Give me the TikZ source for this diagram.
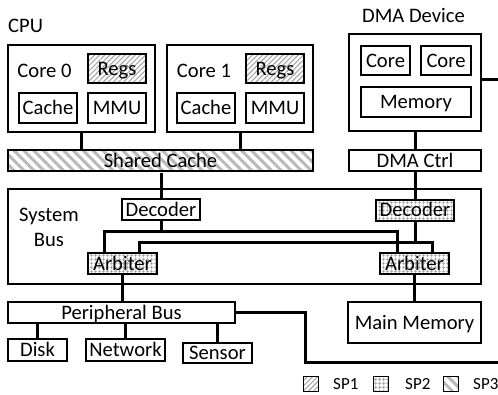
\documentclass[tikz,border=0pt]{standalone}
\usepackage{fontspec}
\setmainfont{Carlito}
\usetikzlibrary{patterns.meta}
\begin{document}
\begin{tikzpicture}[x=1pt,y=-1pt,
  box/.style={draw, line width=2pt, inner sep=0pt,
    font=\fontsize{20.6}{24}\selectfont, text height=13.2pt, text depth=0pt},
  conn/.style={line width=3pt},
  title/.style={font=\fontsize{20.6}{24}\selectfont, inner sep=0pt},
  legtext/.style={font=\fontsize{17}{20}\selectfont, inner sep=0pt,
    text height=11pt, text depth=0pt, anchor=west},
  legbox/.style={draw, line width=1pt, minimum width=15pt, minimum height=15pt, inner sep=0pt},
  spone/.style={pattern={Lines[angle=45,distance=3.6pt,line width=1.1pt]}, pattern color=gray!70},
  sptwo/.style={pattern={Hatch[angle=0,distance=4pt,line width=0.8pt]}, pattern color=gray!80},
  spthree/.style={pattern={Lines[angle=-45,distance=7pt,line width=3pt]}, pattern color=gray!55},
]
\useasboundingbox (0,0) rectangle (498,394);

% ---- CPU ----
\node[title, anchor=base west] (cpulbl) at (8,32) {CPU};
\node[box, minimum width=147pt, minimum height=87pt] (core0) at (81.5,88.5) {};
\node[box, draw=none] (core0lbl) at (44.5,70.5) {Core 0};
\node[box, spone, minimum width=58pt, minimum height=29pt] (regs0) at (117,68.5) {Regs};
\node[box, minimum width=58pt, minimum height=30pt] (cache0) at (48,108) {Cache};
\node[box, minimum width=58pt, minimum height=30pt] (mmu0) at (117,108) {MMU};

\node[box, minimum width=146pt, minimum height=87pt] (core1) at (240,88.5) {};
\node[box, draw=none] (core1lbl) at (204,70.5) {Core 1};
\node[box, spone, minimum width=58pt, minimum height=29pt] (regs1) at (275,68.5) {Regs};
\node[box, minimum width=58pt, minimum height=30pt] (cache1) at (206,108) {Cache};
\node[box, minimum width=58pt, minimum height=30pt] (mmu1) at (275,108) {MMU};

\node[box, spthree, minimum width=305pt, minimum height=21pt] (shc) at (160.5,160.5) {Shared Cache};

% ---- DMA device ----
\node[title, anchor=base] (dmalbl) at (413.5,22) {DMA Device};
\node[box, minimum width=132pt, minimum height=97pt] (dma) at (415,82.5) {};
\node[box, minimum width=49pt, minimum height=29pt] (dcore0) at (385.5,60.5) {Core};
\node[box, minimum width=50pt, minimum height=29pt] (dcore1) at (446,60.5) {Core};
\node[box, minimum width=110pt, minimum height=30pt] (dmem) at (416,102) {Memory};
\node[box, minimum width=132pt, minimum height=21pt] (dctrl) at (415,160.5) {DMA Ctrl};

% ---- System bus ----
\node[box, minimum width=473pt, minimum height=95pt] (sysbus) at (244.5,236.5) {};
\node[title, anchor=base] (syslbl1) at (49,221) {System};
\node[title, anchor=base] (syslbl2) at (49,246) {Bus};
\node[box, fill=white, minimum width=78pt, minimum height=21pt] (decL) at (161,209.5) {Decoder};
\node[box, sptwo, minimum width=78pt, minimum height=21pt] (decR) at (415,210) {Decoder};
\node[box, sptwo, minimum width=69pt, minimum height=21pt] (arbL) at (122.5,263.5) {Arbiter};
\node[box, sptwo, minimum width=69pt, minimum height=21pt] (arbR) at (414.5,263.5) {Arbiter};

% ---- peripherals and memory ----
\node[box, minimum width=227pt, minimum height=21pt] (pbus) at (121.5,312.5) {Peripheral Bus};
\node[box, minimum width=59pt, minimum height=22pt] (disk) at (37.5,350) {Disk};
\node[box, minimum width=79pt, minimum height=22pt] (net) at (125.5,350) {Network};
\node[box, minimum width=69pt, minimum height=20pt] (sensor) at (217.5,352.5) {Sensor};
\node[box, minimum width=133pt, minimum height=41pt] (mainmem) at (414.5,322.5) {Main Memory};

% ---- connector corners ----
\coordinate (busA) at (104,231);
\coordinate (busB) at (397,231);
\coordinate (busC) at (139,242);
\coordinate (busD) at (432,242);
\coordinate (dmaout) at (498,79);
\coordinate (pturn) at (305,362);
\coordinate (pout) at (498,362);

% ---- connectors ----
\draw[conn] (core0.south) -- (core0.south |- shc.north);
\draw[conn] (core1.south) -- (core1.south |- shc.north);
\draw[conn] (shc.south -| decL.north) -- (decL.north);
\draw[conn] (dma.south) -- (dctrl.north);
\draw[conn] (dctrl.south) -- (decR.north);
\draw[conn] (dma.east |- dmaout) -- (dmaout);

\draw[conn] (decL.south) -- (decL.south |- busA);
\draw[conn] (arbL.north -| busA) -- (busA) -- (busB) -- (arbR.north -| busB);
\draw[conn] (decR.south) -- (decR.south |- busD);
\draw[conn] (arbL.north -| busC) -- (busC) -- (busD) -- (arbR.north -| busD);

\draw[conn] (arbL.south) -- (arbL.south |- pbus.north);
\draw[conn] (arbR.south) -- (arbR.south |- mainmem.north);
\draw[conn] (pbus.south -| disk.north) -- (disk.north);
\draw[conn] (pbus.south -| net.north) -- (net.north);
\draw[conn] (pbus.south -| sensor.north) -- (sensor.north);
\draw[conn] (pbus.east) -| (pturn) -- (pout);

% ---- legend ----
\node[legbox, spone] (leg1) at (310.5,383.5) {};
\node[legtext] (leg1t) at (333,384) {SP1};
\node[legbox, sptwo] (leg2) at (380.5,383.5) {};
\node[legtext] (leg2t) at (405,384) {SP2};
\node[legbox, spthree] (leg3) at (450.5,383.5) {};
\node[legtext] (leg3t) at (473,384) {SP3};
\end{tikzpicture}
\end{document}
